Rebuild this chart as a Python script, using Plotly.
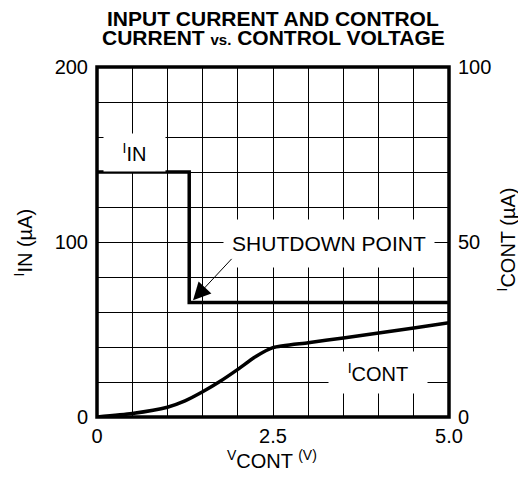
import plotly.graph_objects as go

# Data
vcont_in = [0, 1.31, 1.31, 5.0]
i_in = [140, 140, 65.5, 65.5]

vcont_c = [0, 0.5, 1.0, 1.25, 1.5, 1.75, 2.0, 2.25, 2.5, 3.0, 3.5, 4.0, 4.5, 5.0]
i_cont = [0, 1.0, 2.8, 4.6, 7.2, 10.2, 13.6, 17.2, 19.8, 21.2, 22.6, 24.0, 25.4, 26.9]

x_ticks = [0, 2.5, 5.0]
x_ticklabels = ["0", "2.5", "5.0"]
y_ticks = [0, 100, 200]
y2_ticks = [0, 50, 100]

FONT = "Liberation Sans, Arial, sans-serif"

fig = go.Figure()
fig.add_trace(go.Scatter(x=vcont_in, y=i_in, mode="lines",
                         line=dict(color="black", width=3.5), yaxis="y"))
fig.add_trace(go.Scatter(x=vcont_c, y=i_cont, mode="lines",
                         line=dict(color="black", width=3.5, shape="spline", smoothing=0.6),
                         yaxis="y2"))

W, H = 518, 484
L, T, R, B = 97, 67, 69, 67
pw, ph = W - L - R, H - T - B

def px(xp):
    return (xp - L) / pw

def py(yp):
    return (H - B - yp) / ph

annotations = [
    dict(text="<b>INPUT CURRENT AND CONTROL</b>", x=px(273), y=py(18), xref="paper", yref="paper",
         showarrow=False, font=dict(family=FONT, size=21, color="black"), xanchor="center", yanchor="middle"),
    dict(text="<b>CURRENT <span style='font-size:15px'>vs.</span> CONTROL VOLTAGE</b>", x=px(273), y=py(37),
         xref="paper", yref="paper",
         showarrow=False, font=dict(family=FONT, size=21, color="black"), xanchor="center", yanchor="middle"),
    dict(text="<sup>I</sup>IN", x=0.533, y=151, xref="x", yref="y", showarrow=False,
         bgcolor="white", width=59, height=35, font=dict(family=FONT, size=20, color="black")),
    dict(text="SHUTDOWN POINT", x=3.295, y=99.4, xref="x", yref="y", showarrow=False,
         bgcolor="white", width=208, height=45, font=dict(family=FONT, size=21, color="black")),
    dict(text="", x=1.364, y=66.7, xref="x", yref="y", ax=1.932, ay=91.2, axref="x", ayref="y",
         showarrow=True, arrowhead=2, arrowsize=3.5, arrowwidth=1, arrowcolor="black"),
    dict(text="<sup>I</sup>CONT", x=3.99, y=12.7, xref="x", yref="y2", showarrow=False,
         bgcolor="white", width=96, height=39, font=dict(family=FONT, size=20, color="black")),
    dict(text="<sup>I</sup>IN (µA)", x=px(8), y=py(242), xref="paper", yref="paper", showarrow=False,
         textangle=-90, font=dict(family=FONT, size=20, color="black")),
    dict(text="<sup>I</sup>CONT (µA)", x=px(520), y=py(240), xref="paper", yref="paper", showarrow=False,
         textangle=-90, font=dict(family=FONT, size=20, color="black")),
    dict(text="<sup>V</sup>CONT <sup>(V)</sup>", x=px(272), y=py(474), xref="paper", yref="paper",
         showarrow=False, font=dict(family=FONT, size=20, color="black")),
]

fig.update_layout(
    width=W, height=H,
    margin=dict(l=L, r=R, t=T, b=B, autoexpand=False),
    paper_bgcolor="white", plot_bgcolor="white",
    showlegend=False,
    font=dict(family=FONT, size=20, color="black"),
    xaxis=dict(range=[0, 5], tickvals=x_ticks, ticktext=x_ticklabels, showgrid=True,
               gridcolor="black", gridwidth=1, zeroline=False, showline=False,
               ticklabelstandoff=5, automargin=False,
               minor=dict(dtick=0.5, showgrid=True, gridcolor="black", gridwidth=1)),
    yaxis=dict(range=[0, 200], tickvals=y_ticks, showgrid=True, gridcolor="black", gridwidth=1,
               zeroline=False, showline=False, ticklabelstandoff=8, automargin=False,
               minor=dict(dtick=20, showgrid=True, gridcolor="black", gridwidth=1)),
    yaxis2=dict(range=[0, 100], tickvals=y2_ticks, overlaying="y", side="right", showgrid=False,
                zeroline=False, showline=False, ticklabelstandoff=8, automargin=False),
    annotations=annotations,
    shapes=[dict(type="rect", xref="paper", yref="paper", x0=0, x1=1, y0=0, y1=1,
                 line=dict(color="black", width=3.5), layer="above")],
)

fig.write_html("out.html", config={"displayModeBar": False},
               post_script="document.body.style.margin='0px';document.body.style.overflow='hidden';")
